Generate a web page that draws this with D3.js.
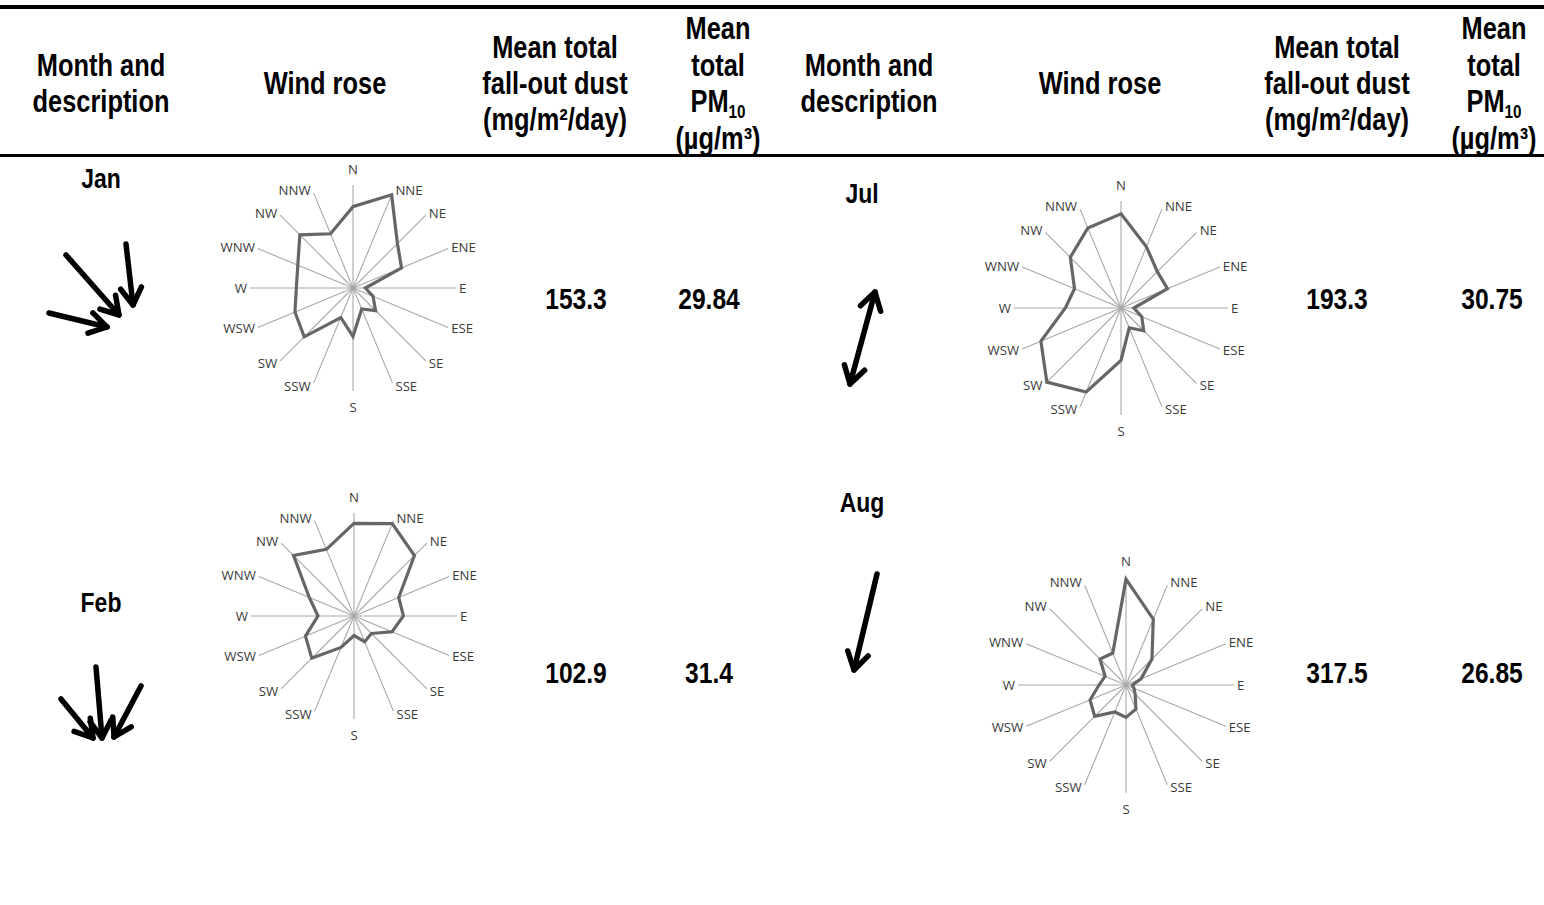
<!DOCTYPE html>
<html>
<head>
<meta charset="utf-8">
<script src="https://cdn.jsdelivr.net/npm/d3@7"></script>
<style>
  html, body { margin: 0; padding: 0; background: #fff; }
  svg { display: block; }
</style>
</head>
<body>
<svg id="chart" width="1544" height="905"></svg>
<script>
// ---- data ----
const directions = ["N","NNE","NE","ENE","E","ESE","SE","SSE","S","SSW","SW","WSW","W","WNW","NW","NNW"];
const months = ["Jan", "Feb", "Jul", "Aug"];
const dustValues = [153.3, 102.9, 193.3, 317.5];      // mg/m²/day
const pm10Values = [29.84, 31.4, 30.75, 26.85];       // µg/m³
// relative wind frequency per direction (N, NNE, ... NNW)
const windJan = [79, 98, 61, 51, 12, 21, 31, 22, 47, 31, 67, 61, 55, 58, 73, 57];
const windFeb = [90, 97, 83, 47, 48, 40, 24, 27, 19, 33, 58, 51, 35, 47, 83, 70];
const windJul = [88, 62, 48, 47, 12, 21, 30, 20, 49, 85, 98, 81, 52, 47, 67, 81];
const windAug = [98, 66, 34, 15, 6, 8, 12, 24, 30, 27, 41, 36, 25, 21, 34, 32];
const windSeries = [windJan, windFeb, windJul, windAug];
const valueDecimals = [[1, 2], [1, 1], [1, 2], [1, 2]];

// ---- fonts ----
function fontAvailable(name) {
  const ctx = document.createElement("canvas").getContext("2d");
  const probe = "description 153.3 Wind rose";
  ctx.font = "bold 40px monospace";
  const a = ctx.measureText(probe).width;
  ctx.font = `bold 40px "${name}", monospace`;
  const b = ctx.measureText(probe).width;
  return Math.abs(a - b) > 0.5;
}
const narrow = fontAvailable("Liberation Sans Narrow");
const boldFamily = narrow ? '"Liberation Sans Narrow", "Liberation Sans", Arial, sans-serif'
                          : '"Liberation Sans", Arial, sans-serif';
const squeeze = narrow ? 1 : 0.82;

const svg = d3.select("#chart");

// bold narrow text, centred on x, baseline at y; parts: [{t, sub}]
function boldText(x, y, parts, size) {
  const t = svg.append("text")
    .attr("transform", `translate(${x},${y}) scale(${squeeze},1)`)
    .attr("text-anchor", "middle")
    .attr("font-family", boldFamily)
    .attr("font-weight", "bold")
    .attr("font-size", size)
    .attr("fill", "#000");
  (typeof parts === "string" ? [{ t: parts }] : parts).forEach(p => {
    const ts = t.append("tspan").text(p.t);
    if (p.sub) ts.attr("font-size", size * 0.6).attr("dy", size * 0.2);
  });
  return t;
}

// ---- table rules ----
svg.append("rect").attr("x", 0).attr("y", 5).attr("width", 1544).attr("height", 4).attr("fill", "#000");
svg.append("rect").attr("x", 0).attr("y", 154).attr("width", 1544).attr("height", 3).attr("fill", "#000");

// ---- header ----
const headerSize = 31, lineGap = 36.4, headerMid = 94;
const headers = [
  [["Month and"], ["description"]],
  [["Wind rose"]],
  [["Mean total"], ["fall-out dust"], ["(mg/m²/day)"]],
  [["Mean"], ["total"], [{ t: "PM" }, { t: "10", sub: true }], ["(µg/m³)"]]
];
const headerX = [[101, 325, 555, 718], [869, 1100, 1337, 1494]];
headerX.forEach(xs => {
  headers.forEach((lines, c) => {
    lines.forEach((ln, i) => {
      const y = headerMid + (i - (lines.length - 1) / 2) * lineGap;
      const parts = ln.map(p => typeof p === "string" ? { t: p } : p);
      boldText(xs[c], y, parts, headerSize);
    });
  });
});

// ---- panel layout ----
const panels = [
  { m: 0, labelX: 101, labelY: 188, cx: 353, cy: 288, r: 103, dustX: 576, pmX: 709, valY: 309 },
  { m: 1, labelX: 101, labelY: 612, cx: 354, cy: 616, r: 103, dustX: 576, pmX: 709, valY: 683 },
  { m: 2, labelX: 862, labelY: 203, cx: 1121, cy: 308, r: 107, dustX: 1337, pmX: 1492, valY: 309 },
  { m: 3, labelX: 862, labelY: 512, cx: 1126, cy: 685, r: 108, dustX: 1337, pmX: 1492, valY: 683 }
];

const step = 2 * Math.PI / directions.length;

panels.forEach(p => {
  boldText(p.labelX, p.labelY, months[p.m], 28);
  boldText(p.dustX, p.valY, dustValues[p.m].toFixed(valueDecimals[p.m][0]), 30);
  boldText(p.pmX, p.valY, pm10Values[p.m].toFixed(valueDecimals[p.m][1]), 30);

  // wind rose
  const rScale = d3.scaleLinear().domain([0, 100]).range([0, p.r]);
  const g = svg.append("g").attr("transform", `translate(${p.cx},${p.cy})`);

  g.selectAll("line.spoke").data(directions).join("line")
    .attr("class", "spoke")
    .attr("x1", 0).attr("y1", 0)
    .attr("x2", (d, i) => rScale(100) * Math.sin(i * step))
    .attr("y2", (d, i) => -rScale(100) * Math.cos(i * step))
    .attr("stroke", "#a8a8a8").attr("stroke-width", 1.1);

  g.selectAll("text.dir").data(directions).join("text")
    .attr("class", "dir")
    .attr("font-family", '"Open Sans", "Noto Sans", sans-serif')
    .attr("font-size", 13.2)
    .attr("fill", "#3a3a3a")
    .each(function (d, i) {
      const a = i * step, s = Math.sin(a), c = Math.cos(a);
      const ex = rScale(100) * s, ey = -rScale(100) * c;
      const el = d3.select(this).text(d);
      if (Math.abs(s) < 1e-6) {
        el.attr("text-anchor", "middle").attr("x", ex)
          .attr("y", c > 0 ? ey - 11.5 : ey + 21);
      } else {
        el.attr("text-anchor", s > 0 ? "start" : "end")
          .attr("x", ex + (s > 0 ? 3 : -3))
          .attr("y", ey - 3 * c).attr("dy", "0.35em");
      }
    });

  const radial = d3.lineRadial()
    .angle((d, i) => i * step)
    .radius(d => rScale(d))
    .curve(d3.curveLinearClosed);

  g.append("path")
    .datum(windSeries[p.m])
    .attr("d", radial)
    .attr("fill", "none")
    .attr("stroke", "#666")
    .attr("stroke-width", 3.2)
    .attr("stroke-linejoin", "miter");
});

// ---- prevailing wind arrows ----
function arrow(x1, y1, x2, y2, both) {
  const g = svg.append("g").attr("stroke", "#000").attr("stroke-width", 5.5)
    .attr("fill", "none").attr("stroke-linecap", "round").attr("stroke-linejoin", "round");
  g.append("line").attr("x1", x1).attr("y1", y1).attr("x2", x2).attr("y2", y2);
  const head = (tx, ty, fx, fy) => {
    const ang = Math.atan2(ty - fy, tx - fx), L = 20, w = 0.55;
    const p1 = [tx - L * Math.cos(ang - w), ty - L * Math.sin(ang - w)];
    const p2 = [tx - L * Math.cos(ang + w), ty - L * Math.sin(ang + w)];
    g.append("path").attr("d", `M${p1}L${tx},${ty}L${p2}`);
  };
  head(x2, y2, x1, y1);
  if (both) head(x1, y1, x2, y2);
}
// Jan: NW / WNW / N
arrow(49, 313, 107, 327);
arrow(66, 255, 119, 315);
arrow(126, 244, 133, 305);
// Feb: NW / N / NE
arrow(61, 699, 93, 738);
arrow(96, 667, 102, 738);
arrow(141, 686, 114, 737);
// Jul: NNE-SSW both ways
arrow(875, 292, 850, 384, true);
// Aug: NNE
arrow(877, 574, 854, 670);
</script>
</body>
</html>
